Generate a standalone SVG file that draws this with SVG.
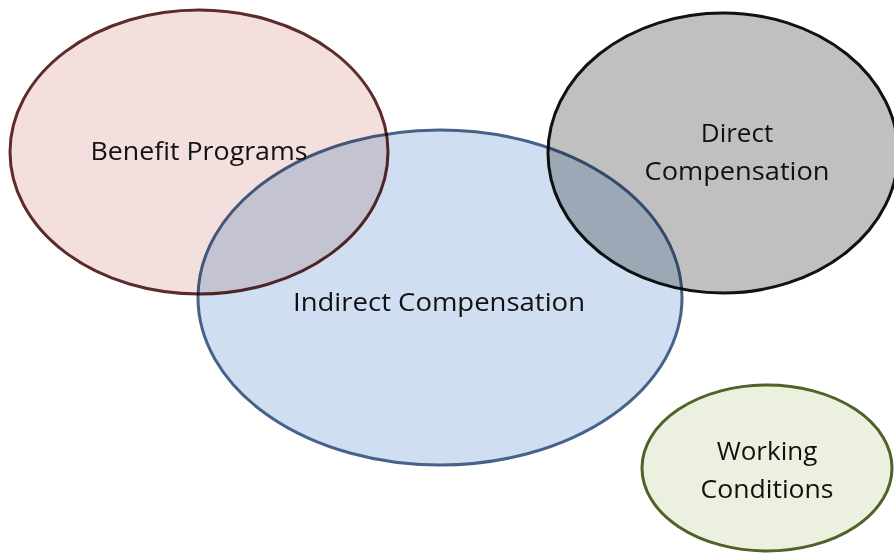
<svg xmlns="http://www.w3.org/2000/svg" width="894" height="556" viewBox="0 0 894 556">
<style>
.shape{stroke-width:3;mix-blend-mode:multiply}
.lbl{font-family:"Open Sans","Liberation Sans",sans-serif;font-size:26px;fill:#111;text-anchor:middle}
</style>
<rect width="894" height="556" fill="#ffffff"/>
<g id="benefit-programs">
<ellipse class="shape" cx="199" cy="152" rx="189" ry="142" fill="#f2dfde" stroke="#5e2a2a"/>
</g>
<g id="indirect-compensation">
<ellipse class="shape" cx="440" cy="297.5" rx="242" ry="167.5" fill="#cfdff1" stroke="#46628a"/>
</g>
<g id="direct-compensation">
<ellipse class="shape" cx="723" cy="153" rx="175" ry="140" fill="#c0c0c0" stroke="#111111"/>
</g>
<g id="working-conditions">
<ellipse class="shape" cx="767" cy="468" rx="125" ry="83" fill="#ebf1de" stroke="#4f6228"/>
</g>
<g id="labels">
<text class="lbl" x="199" y="160" textLength="217" lengthAdjust="spacingAndGlyphs">Benefit Programs</text>
<text class="lbl" x="439" y="311" textLength="292" lengthAdjust="spacingAndGlyphs">Indirect Compensation</text>
<text class="lbl" x="737" y="142">Direct</text>
<text class="lbl" x="737" y="180" textLength="185" lengthAdjust="spacingAndGlyphs">Compensation</text>
<text class="lbl" x="767" y="460">Working</text>
<text class="lbl" x="767" y="498" textLength="133" lengthAdjust="spacingAndGlyphs">Conditions</text>
</g>
<g id="connectors"></g>
</svg>
